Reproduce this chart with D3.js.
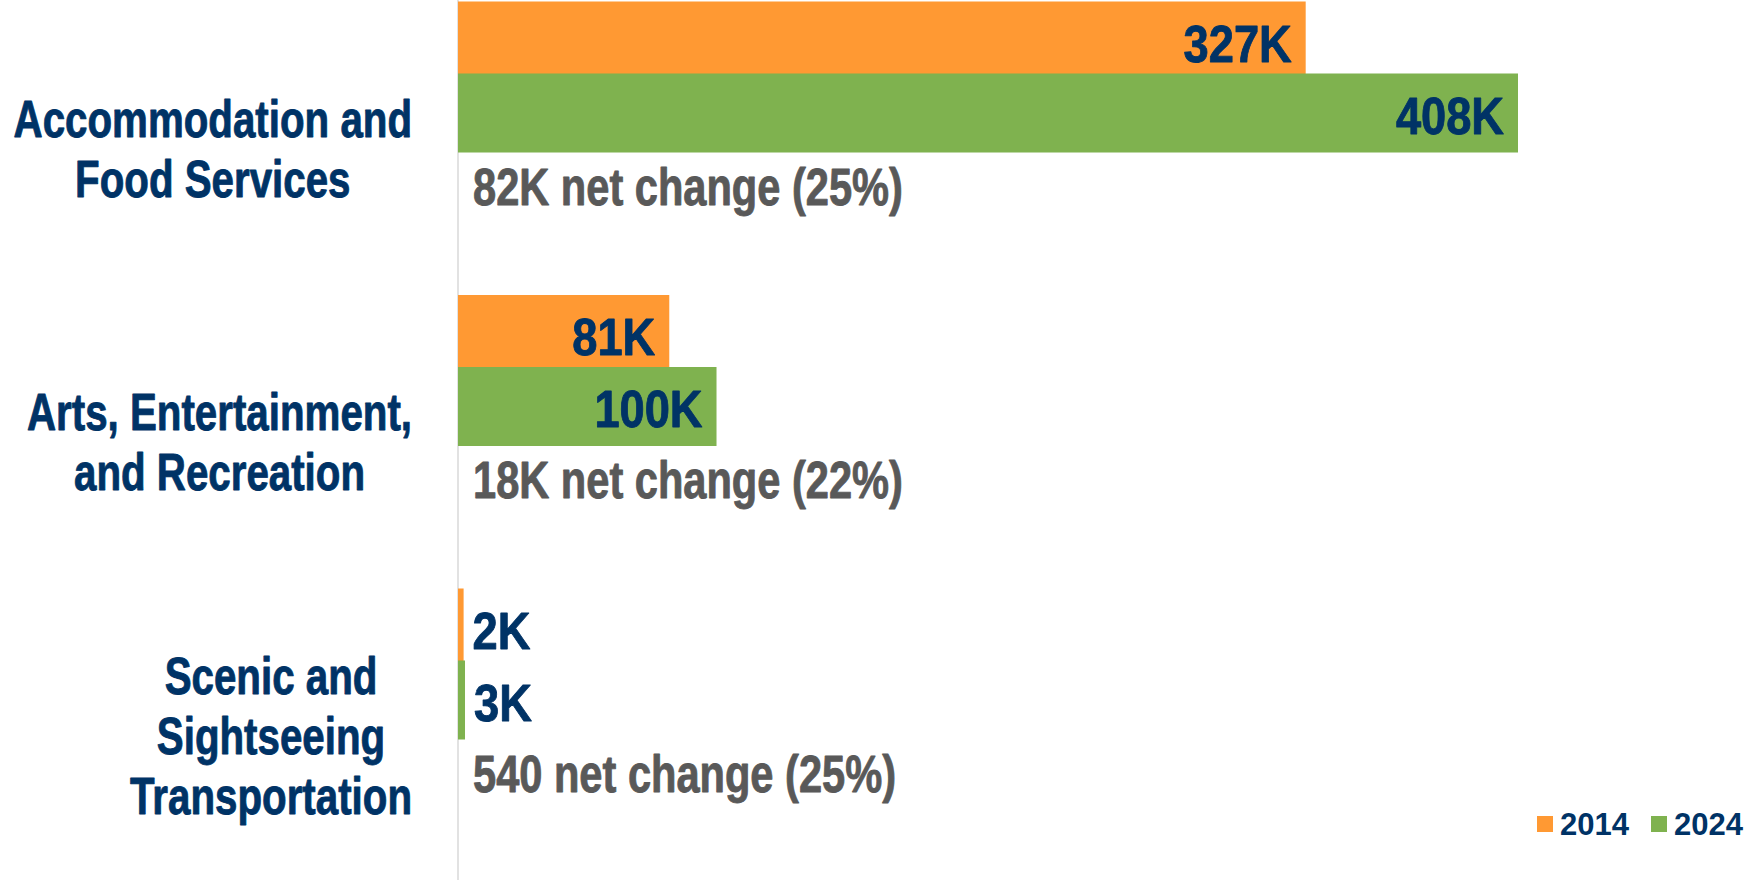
<!DOCTYPE html>
<html>
<head>
<meta charset="utf-8">
<script src="https://cdn.jsdelivr.net/npm/d3@7"></script>
<style>
  html, body { margin: 0; padding: 0; background: #ffffff; }
  svg { display: block; }
</style>
</head>
<body>
<svg id="chart" width="1749" height="880"></svg>
<script>
// ---- data (thousands of jobs) ----
const categories = [
  "Accommodation and Food Services",
  "Arts, Entertainment, and Recreation",
  "Scenic and Sightseeing Transportation"
];
const categoryLines = [
  ["Accommodation and", "Food Services"],
  ["Arts, Entertainment,", "and Recreation"],
  ["Scenic and", "Sightseeing", "Transportation"]
];
const years = ["2014", "2024"];
const values2014 = [326.6, 81.4, 2.16];
const values2024 = [408.4, 99.6, 2.70];
const labels2014 = ["327K", "81K", "2K"];
const labels2024 = ["408K", "100K", "3K"];
const netChangeLabels = [
  "82K net change (25%)",
  "18K net change (22%)",
  "540 net change (25%)"
];

// ---- styling ----
const colors = { "2014": "#FF9933", "2024": "#7FB24F" };
const navy = "#003366";
const gray = "#595959";
const font = "'Liberation Sans', Arial, sans-serif";

const svg = d3.select("#chart");

const x = d3.scaleLinear().domain([0, 408.4]).range([458, 1518]);
const y = d3.scaleBand().domain(categories).range([1.5, 882]).padding(0);
const ySeries = d3.scalePoint().domain(years).range([0, 72]);
const barH = 79;

const series = years.map((yr, si) => ({
  year: yr,
  values: si === 0 ? values2014 : values2024,
  labels: si === 0 ? labels2014 : labels2024
}));

// condensed text helper: draws text at (tx,ty) squeezed horizontally by sx
function condText(parent, tx, ty, str, opts) {
  const g = parent.append("g")
    .attr("transform", `translate(${tx},${ty}) scale(${opts.sx},1)`);
  const t = g.append("text")
    .attr("x", 0).attr("y", 0)
    .attr("font-family", font)
    .attr("font-weight", "bold")
    .attr("font-size", opts.size || 52)
    .attr("fill", opts.fill)
    .attr("stroke", opts.fill)
    .attr("stroke-width", 0.9)
    .attr("stroke-linejoin", "round")
    .attr("text-anchor", opts.anchor || "start")
    .text(str);
  return t;
}

// axis line
svg.append("line")
  .attr("x1", x(0)).attr("x2", x(0))
  .attr("y1", 0).attr("y2", 880)
  .attr("stroke", "#D9D9D9").attr("stroke-width", 1.5);

// bars
series.forEach(s => {
  svg.append("g").selectAll("rect")
    .data(categories)
    .join("rect")
    .attr("x", x(0))
    .attr("y", (c) => y(c) + ySeries(s.year))
    .attr("width", (c, i) => x(s.values[i]) - x(0))
    .attr("height", barH)
    .attr("fill", colors[s.year]);
});

// value labels
const valLayer = svg.append("g");
series.forEach(s => {
  categories.forEach((c, i) => {
    const v = s.values[i];
    const inside = (x(v) - x(0)) > 150;
    condText(valLayer,
      inside ? x(v) - 14 : x(v) + 9,
      y(c) + ySeries(s.year) + 60,
      s.labels[i],
      { sx: 0.87, fill: navy, anchor: inside ? "end" : "start" });
  });
});

// net change labels
const netLayer = svg.append("g");
categories.forEach((c, i) => {
  condText(netLayer, x(0) + 15, y(c) + 203, netChangeLabels[i],
    { sx: 0.80, fill: gray });
});

// category labels (block right-aligned, lines centered)
const rightEdge = 412;
const catSx = 0.775;
const catLayer = svg.append("g");
categories.forEach((c, i) => {
  const lines = categoryLines[i];
  const n = lines.length;
  const cy = y(c) + y.bandwidth() / 2;
  const texts = lines.map((ln, j) =>
    condText(catLayer, 0, cy - (n - 1) * 30 + j * 60 + 18.5, ln,
      { sx: catSx, fill: navy, anchor: "middle" }));
  let maxW = 0;
  texts.forEach(t => { maxW = Math.max(maxW, t.node().getComputedTextLength() * catSx); });
  const cx = rightEdge - maxW / 2;
  texts.forEach((t, j) => {
    d3.select(t.node().parentNode)
      .attr("transform", `translate(${cx},${cy - (n - 1) * 30 + j * 60 + 18.5}) scale(${catSx},1)`);
  });
});

// legend
const legendX = [1537, 1651];
const lg = svg.append("g");
years.forEach((yr, i) => {
  lg.append("rect")
    .attr("x", legendX[i]).attr("y", 816)
    .attr("width", 16).attr("height", 16)
    .attr("fill", colors[yr]);
  lg.append("text")
    .attr("x", legendX[i] + 23).attr("y", 835)
    .attr("font-family", font)
    .attr("font-weight", "bold")
    .attr("font-size", 31)
    .attr("fill", navy)
    .text(yr);
});
</script>
</body>
</html>
